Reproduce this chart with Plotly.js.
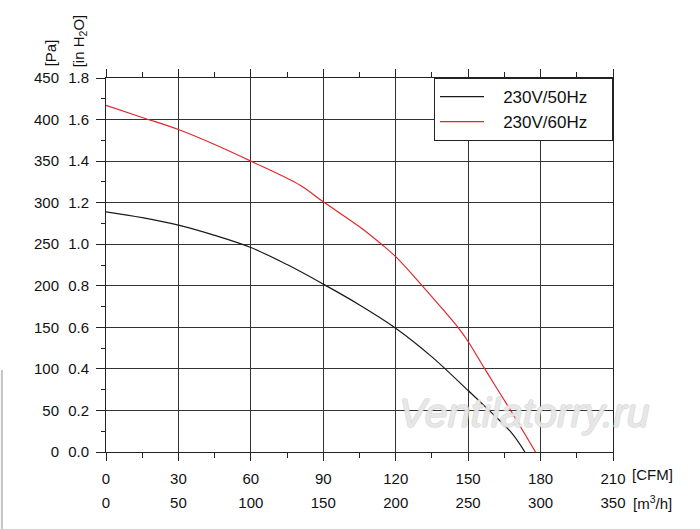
<!DOCTYPE html>
<html><head><meta charset="utf-8">
<script src="https://cdn.plot.ly/plotly-3.0.1.min.js"></script>
<style>html,body{margin:0;padding:0;background:#fff}#chart{width:700px;height:529px}</style>
</head><body><div id="chart"></div>
<script>
// Airflow [CFM] vs static pressure [Pa]
const flow50 = [0, 15, 30, 45, 60, 75, 90, 105, 120, 135, 150, 158.7, 168, 173.5];
const pressure50 = [289, 282, 273, 260.7, 246, 225.5, 202, 177, 149, 114.5, 74, 50, 23, 0];
const flow60 = [0, 15, 30, 45, 60, 80.4, 90, 105, 114.1, 120, 131, 140, 145.8, 150, 156.9, 167.6, 172.8, 177.9];
const pressure60 = [417, 402.5, 388, 370, 350, 321, 301, 271, 250, 235, 200, 170, 150, 133, 100, 50, 25, 0];
const seriesNames = ['230V/50Hz', '230V/60Hz'];

// Axis ticks
const cfmTicks = [0, 30, 60, 90, 120, 150, 180, 210];
const cfmLabels = ['0', '30', '60', '90', '120', '150', '180', '210'];
const m3hLabels = ['0', '50', '100', '150', '200', '250', '300', '350'];
const paTicks = [0, 50, 100, 150, 200, 250, 300, 350, 400, 450];
const paLabels = ['0', '50', '100', '150', '200', '250', '300', '350', '400', '450'];
const inh2oTicks = [0, 0.2, 0.4, 0.6, 0.8, 1.0, 1.2, 1.4, 1.6, 1.8];
const inh2oLabels = ['0.0', '0.2', '0.4', '0.6', '0.8', '1.0', '1.2', '1.4', '1.6', '1.8'];

const mids = a => a.slice(1).map((v, i) => (v + a[i]) / 2);
const NB = '\u00A0';
const legendName = s => NB.repeat(3) + s + NB.repeat(4);

const INK = '#222';
const traces = [
  {x: flow50, y: pressure50, name: legendName(seriesNames[0]), type: 'scatter', mode: 'lines',
   line: {color: '#1a1a1a', width: 1.2, shape: 'spline', smoothing: 1}, hoverinfo: 'x+y'},
  {x: flow60, y: pressure60, name: legendName(seriesNames[1]), type: 'scatter', mode: 'lines',
   line: {color: '#e0262b', width: 1.2, shape: 'spline', smoothing: 1}, hoverinfo: 'x+y'},
  {x: [0], y: [0], xaxis: 'x2', yaxis: 'y2', type: 'scatter', mode: 'markers',
   marker: {opacity: 0}, showlegend: false, hoverinfo: 'skip'}
];

const layout = {
  width: 700, height: 529,
  margin: {l: 105.7, r: 86.7, t: 77.5, b: 76.7, pad: 0},
  paper_bgcolor: '#fff', plot_bgcolor: '#fff',
  font: {family: '"Liberation Sans", Arial, sans-serif', size: 15, color: '#111'},
  showlegend: true,
  legend: {x: 1, y: 1, xanchor: 'right', yanchor: 'top', bgcolor: '#fff',
    bordercolor: INK, borderwidth: 1, font: {size: 17, color: '#111'}, itemwidth: 44},
  xaxis: {range: [0, 210], tickmode: 'array', tickvals: cfmTicks, ticktext: cfmLabels,
    ticks: 'outside', ticklen: 8, tickcolor: INK, tickwidth: 1,
    showline: true, linecolor: INK, linewidth: 1, mirror: 'ticks',
    showgrid: true, gridcolor: '#333', gridwidth: 1, zeroline: false,
    minor: {tickmode: 'array', tickvals: mids(cfmTicks), ticks: 'outside', ticklen: 5, tickcolor: INK, showgrid: false},
    ticklabelstandoff: 5, fixedrange: true},
  xaxis2: {range: [0, 210], overlaying: 'x', anchor: 'free', position: 0, side: 'bottom',
    tickmode: 'array', tickvals: cfmTicks, ticktext: m3hLabels,
    ticks: '', showline: false, showgrid: false, zeroline: false,
    ticklabelstandoff: 40, fixedrange: true},
  yaxis: {range: [0, 450], tickmode: 'array', tickvals: paTicks, ticktext: paLabels,
    ticks: 'outside', ticklen: 9, tickcolor: INK, tickwidth: 1,
    showline: true, linecolor: INK, linewidth: 1, mirror: true,
    showgrid: true, gridcolor: '#333', gridwidth: 1, zeroline: false,
    minor: {tickmode: 'array', tickvals: mids(paTicks), ticks: 'outside', ticklen: 4, tickcolor: INK, showgrid: false},
    ticklabelstandoff: 34, fixedrange: true},
  yaxis2: {range: [0, 1.8], overlaying: 'y', anchor: 'free', position: 0, side: 'left',
    tickmode: 'array', tickvals: inh2oTicks, ticktext: inh2oLabels,
    ticks: '', showline: false, showgrid: false, zeroline: false,
    ticklabelstandoff: 17, fixedrange: true},
  annotations: [
    {text: '[CFM]', xref: 'paper', yref: 'paper', x: 1, y: 0, xanchor: 'left', yanchor: 'middle',
     xshift: 16.7, yshift: -22.7, showarrow: false, font: {size: 15, color: '#111'}},
    {text: '[m<sup>3</sup>/h]', xref: 'paper', yref: 'paper', x: 1, y: 0, xanchor: 'left', yanchor: 'middle',
     xshift: 18.4, yshift: -50, showarrow: false, font: {size: 15, color: '#111'}},
    {text: '[Pa]', xref: 'paper', yref: 'paper', x: 0, y: 1, xanchor: 'center', yanchor: 'middle',
     xshift: -55.7, yshift: 25, textangle: -90, showarrow: false, font: {size: 15, color: '#111'}},
    {text: '[in H<sub>2</sub>O]', xref: 'paper', yref: 'paper', x: 0, y: 1, xanchor: 'center', yanchor: 'middle',
     xshift: -26.2, yshift: 37.5, textangle: -90, showarrow: false, font: {size: 15, color: '#111'}},
    {text: 'Ventilatorry.ru', xref: 'paper', yref: 'paper', x: 0.825, y: 0.105, xanchor: 'center', yanchor: 'middle',
     showarrow: false, font: {size: 41, style: 'italic', color: 'rgba(255,255,255,0.55)',
     shadow: '1px 0 0 #cacaca, -1px 0 0 #cacaca, 0 1px 0 #cacaca, 0 -1px 0 #cacaca'}}
  ],
  shapes: [
    {type: 'line', xref: 'paper', yref: 'paper', x0: -0.2053, x1: -0.2053, y0: 0.2196, y1: -0.21,
     line: {color: '#c4c4c4', width: 2}}
  ]
};

Plotly.newPlot('chart', traces, layout, {displayModeBar: false, staticPlot: true});
</script>
</body></html>
